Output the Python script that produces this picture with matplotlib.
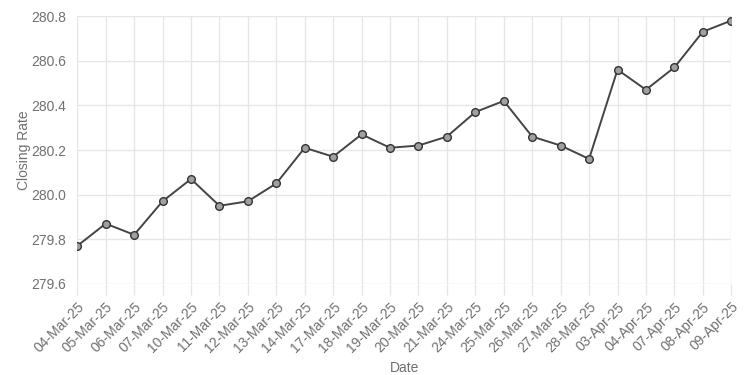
import matplotlib.pyplot as plt

dates = ["04-Mar-25", "05-Mar-25", "06-Mar-25", "07-Mar-25", "10-Mar-25", "11-Mar-25",
         "12-Mar-25", "13-Mar-25", "14-Mar-25", "17-Mar-25", "18-Mar-25", "19-Mar-25",
         "20-Mar-25", "21-Mar-25", "24-Mar-25", "25-Mar-25", "26-Mar-25", "27-Mar-25",
         "28-Mar-25", "03-Apr-25", "04-Apr-25", "07-Apr-25", "08-Apr-25", "09-Apr-25"]
closing = [279.77, 279.87, 279.82, 279.97, 280.07, 279.95, 279.97, 280.05, 280.21, 280.17,
           280.27, 280.21, 280.22, 280.26, 280.37, 280.42, 280.26, 280.22, 280.16, 280.56,
           280.47, 280.57, 280.73, 280.78]
y_ticks = [279.6, 279.8, 280.0, 280.2, 280.4, 280.6, 280.8]

plt.rcParams['font.family'] = ['Liberation Sans', 'DejaVu Sans']
text_color = "#707070"
grid_color = "#e6e6e6"

fig = plt.figure(figsize=(7.5, 3.75), dpi=100)
ax = fig.add_axes([0.103, 0.243, 0.872, 0.714])

x = list(range(len(dates)))
ax.plot(x, closing, color="#444444", linewidth=1.4, marker="o", markersize=5.5,
        markerfacecolor="#a0a0a0", markeredgecolor="#333333", markeredgewidth=1.0, zorder=3)

ax.set_xlim(0, len(dates) - 1)
ax.set_ylim(279.6, 280.8)
ax.set_xticks(x)
ax.set_xticklabels(dates, rotation=45, ha="right", rotation_mode="anchor")
ax.set_yticks(y_ticks)
ax.set_yticklabels([f"{v:.1f}" for v in y_ticks])

ax.grid(True, color=grid_color, linewidth=1.0)
ax.set_axisbelow(True)
for s in ax.spines.values():
    s.set_visible(False)
ax.tick_params(axis="both", colors=grid_color, labelcolor=text_color, labelsize=10, length=8, width=1.0)
ax.tick_params(axis="y", length=0, pad=8)

ax.set_xlabel("Date", color=text_color, fontsize=10, labelpad=4)
ax.set_ylabel("Closing Rate", color=text_color, fontsize=10, labelpad=0)

fig.savefig("out.png", dpi=100)
